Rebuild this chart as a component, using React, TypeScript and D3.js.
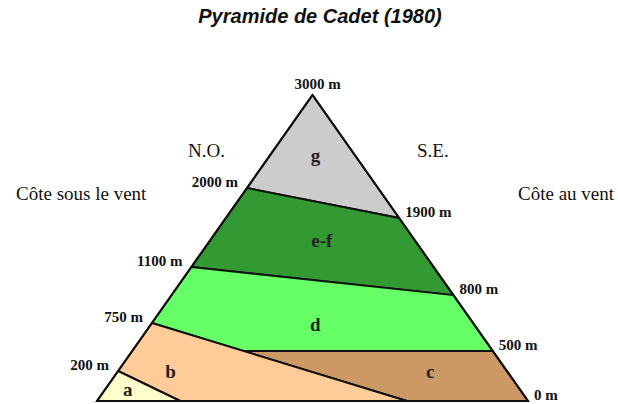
import React, { useEffect, useRef } from 'react';
import * as d3 from 'd3';

// Altitude marks on each flank, with their (schematic) height as a fraction of the pyramid
const leftAltitudes = [200, 750, 1100, 2000];
const leftLevels = [0.098, 0.255, 0.438, 0.696];
const rightAltitudes = [0, 500, 800, 1900];
const rightLevels = [0, 0.163, 0.346, 0.598];
const summitAltitude = 3000;

// Where the two slanting limits meet the base (fraction of base, from the left)
const baseSplits = [0.193, 0.719];

// Vegetation zones
const zoneNames = ['g', 'e-f', 'd', 'c', 'b', 'a'];
const zoneColors = ['#cccccc', '#339933', '#66ff66', '#cc9966', '#ffcc99', '#ffffcc'];

const title = 'Pyramide de Cadet (1980)';

export default function App() {
  const ref = useRef<SVGSVGElement>(null);

  useEffect(() => {
    if (!ref.current) return;
    const svg = d3.select(ref.current);
    svg.selectAll('*').remove();

    const x = d3.scaleLinear().domain([0, 1]).range([97, 528]);
    const y = d3.scaleLinear().domain([0, 1]).range([401, 95]);

    const apex: [number, number] = [x(0.5), y(1)];
    const L = (h: number): [number, number] => [x(0) + (apex[0] - x(0)) * h, y(h)];
    const R = (h: number): [number, number] => [x(1) - (x(1) - apex[0]) * h, y(h)];
    const B = (u: number): [number, number] => [x(u), y(0)];

    const lv = (alt: number) => leftLevels[leftAltitudes.indexOf(alt)];
    const rv = (alt: number) => rightLevels[rightAltitudes.indexOf(alt)];

    // intersection of the 750 m -> base line with the 500 m horizontal
    const p750 = L(lv(750));
    const bc = B(baseSplits[1]);
    const y500 = R(rv(500))[1];
    const t = (y500 - p750[1]) / (bc[1] - p750[1]);
    const P: [number, number] = [p750[0] + (bc[0] - p750[0]) * t, y500];

    const polys: [number, number][][] = [
      [L(lv(2000)), apex, R(rv(1900))],
      [L(lv(1100)), L(lv(2000)), R(rv(1900)), R(rv(800))],
      [L(lv(750)), L(lv(1100)), R(rv(800)), R(rv(500)), P],
      [P, R(rv(500)), R(0), bc],
      [L(lv(200)), L(lv(750)), bc, B(baseSplits[0])],
      [L(0), L(lv(200)), B(baseSplits[0])]
    ];

    // small label nudges from polygon centroid
    const nudge: Record<string, [number, number]> = {
      g: [-4, -12], 'e-f': [3, -5], d: [0, 9], c: [18, -2], b: [-58, -2], a: [-4, -2]
    };

    const g = svg.append('g');

    g.selectAll('path.zone')
      .data(polys)
      .enter()
      .append('path')
      .attr('class', 'zone')
      .attr('d', d => d3.line()(d) + 'Z')
      .attr('fill', (_, i) => zoneColors[i])
      .attr('stroke', '#111')
      .attr('stroke-width', 2)
      .attr('stroke-linejoin', 'round');

    // outline of the pyramid
    g.append('path')
      .attr('d', d3.line()([L(0), apex, R(0)]) + 'Z')
      .attr('fill', 'none')
      .attr('stroke', '#111')
      .attr('stroke-width', 2);

    const serif = '"Liberation Serif", "Times New Roman", serif';

    g.selectAll('text.zone')
      .data(polys)
      .enter()
      .append('text')
      .attr('class', 'zone')
      .attr('x', (d, i) => d3.polygonCentroid(d)[0] + nudge[zoneNames[i]][0])
      .attr('y', (d, i) => d3.polygonCentroid(d)[1] + nudge[zoneNames[i]][1])
      .attr('text-anchor', 'middle')
      .attr('dy', '0.35em')
      .attr('font-family', serif)
      .attr('font-weight', 'bold')
      .attr('font-size', 19)
      .attr('fill', '#222')
      .text((_, i) => zoneNames[i]);

    // left altitude labels
    g.selectAll('text.left')
      .data(leftAltitudes)
      .enter()
      .append('text')
      .attr('class', 'left')
      .attr('x', (_, i) => L(leftLevels[i])[0] - 9)
      .attr('y', (_, i) => L(leftLevels[i])[1] - 1)
      .attr('text-anchor', 'end')
      .attr('font-family', serif)
      .attr('font-weight', 'bold')
      .attr('font-size', 15)
      .attr('fill', '#111')
      .text(d => `${d} m`);

    // right altitude labels
    g.selectAll('text.right')
      .data(rightAltitudes)
      .enter()
      .append('text')
      .attr('class', 'right')
      .attr('x', (_, i) => R(rightLevels[i])[0] + 6)
      .attr('y', (_, i) => R(rightLevels[i])[1] - 1)
      .attr('font-family', serif)
      .attr('font-weight', 'bold')
      .attr('font-size', 15)
      .attr('fill', '#111')
      .text(d => `${d} m`);

    g.append('text')
      .attr('x', apex[0] + 5)
      .attr('y', apex[1] - 6)
      .attr('text-anchor', 'middle')
      .attr('font-family', serif)
      .attr('font-weight', 'bold')
      .attr('font-size', 15)
      .attr('fill', '#111')
      .text(`${summitAltitude} m`);

    // orientation labels
    const side = [
      { text: 'N.O.', x: 188, y: 157 },
      { text: 'S.E.', x: 417, y: 157 },
      { text: 'Côte sous le vent', x: 16, y: 200 },
      { text: 'Côte au vent', x: 518, y: 200 }
    ];
    g.selectAll('text.side')
      .data(side)
      .enter()
      .append('text')
      .attr('class', 'side')
      .attr('x', d => d.x)
      .attr('y', d => d.y)
      .attr('font-family', serif)
      .attr('font-size', 19)
      .attr('fill', '#111')
      .text(d => d.text);

    // title
    svg.append('text')
      .attr('x', 320)
      .attr('y', 23)
      .attr('text-anchor', 'middle')
      .attr('font-family', '"Liberation Sans", Arial, sans-serif')
      .attr('font-weight', 'bold')
      .attr('font-style', 'italic')
      .attr('font-size', 20)
      .attr('fill', '#111')
      .text(title);
  }, []);

  return (
    <svg
      ref={ref}
      width={618}
      height={404}
      style={{ position: 'absolute', left: 0, top: 0, background: '#fff' }}
    />
  );
}
